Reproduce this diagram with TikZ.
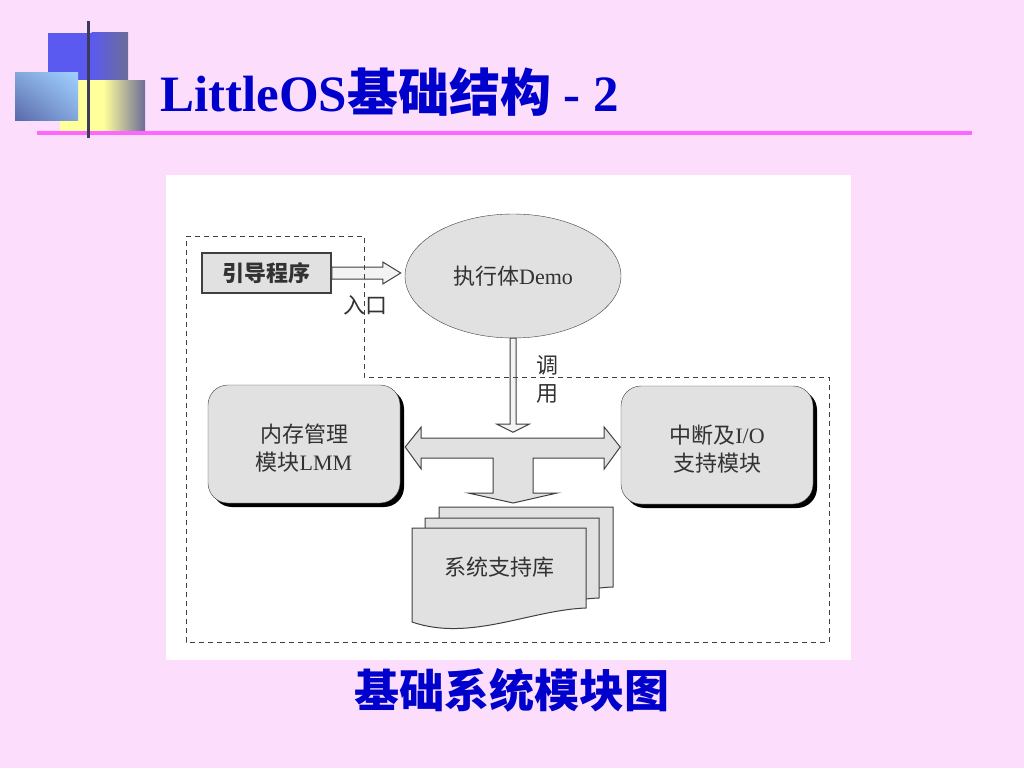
\documentclass[tikz,border=0pt]{standalone}
\usepackage{fontspec}
\setmainfont{Liberation Serif}
\newfontfamily\cjk{Noto Sans CJK SC}
\usetikzlibrary{shapes.geometric,shadows,shadings}
\definecolor{pagepink}{RGB}{252,221,252}
\definecolor{titleblue}{RGB}{0,0,204}
\definecolor{rulepink}{RGB}{255,102,255}
\definecolor{boxfill}{RGB}{225,225,225}
\definecolor{boxline}{RGB}{64,64,64}
\definecolor{boxtext}{RGB}{50,50,50}
\definecolor{logoblue}{RGB}{90,90,240}
\definecolor{logoslate}{RGB}{108,108,152}
\definecolor{logoyellow}{RGB}{255,255,156}
\definecolor{logosky}{RGB}{160,208,255}
\definecolor{logonavy}{RGB}{88,104,168}
\definecolor{logobar}{RGB}{60,60,90}
\tikzset{
  box/.style={draw=boxline,fill=boxfill,text=boxtext,inner sep=0pt},
  module/.style={box,rounded corners=20pt,minimum width=192pt,minimum height=118pt,
    align=center,font=\fontsize{22}{28}\selectfont,text height=53pt,text depth=0pt,
    drop shadow={shadow xshift=4pt,shadow yshift=-4pt,fill=black,opacity=1}},
  hollow/.style={draw=boxline,fill=boxfill,line width=1pt},
  txt/.style={text=boxtext,inner sep=0pt,font=\fontsize{22}{28}\selectfont\cjk}
}
\begin{document}
\begin{tikzpicture}[x=1pt,y=-1pt]
\fill[pagepink] (0,0) rectangle (1024,768);
\useasboundingbox (0,0) rectangle (1024,768);

\fill[logoblue] (48,33) rectangle (92,80);
\shade[left color=logoblue,right color=logoslate] (91.5,33) rectangle (128,80);
\fill[logoyellow] (60,80) rectangle (104,132);
\shade[left color=logoyellow,right color=logoslate] (103.5,80) rectangle (145,132);
\shade[upper right=logosky,lower left=logonavy,upper left=logosky!60!logonavy,lower right=logosky!60!logonavy] (15,72) rectangle (78,120);
\draw[rulepink,line width=3.5pt] (37,133) -- (972,133);
\draw[logobar,line width=3pt] (88,21) -- (88,138);
\node[anchor=base west,inner sep=0pt,text=titleblue,font=\fontsize{51}{60}\selectfont\bfseries] (title) at (160,111) {LittleOS{\cjk 基础结构} - 2};

\fill[white] (166,175) rectangle (851,660);

\node[box,line width=1.5pt,minimum width=129pt,minimum height=40pt,font=\fontsize{22}{26}\selectfont\cjk\bfseries] (boot) at (266.5,273) {引导程序};
\node[box,ellipse,minimum width=216pt,minimum height=124pt,font=\fontsize{22}{26}\selectfont] (demo) at (513,276) {{\cjk 执行体}Demo};
\node[module] (lmm) at (304,444) {{\cjk 内存管理}\\{\cjk 模块}LMM};
\node[module] (io) at (717,445) {{\cjk 中断及}I/O\\{\cjk 支持模块}};

\foreach \dx/\dy in {27/-21,13/-10,0/0}
  \draw[hollow,shift={(\dx,\dy)}] (412,528) -- (586,528) -- (586,608) .. controls (530,610) and (470,642) .. (412,622) -- cycle;
\node[txt] (lib) at (499,567) {系统支持库};

\draw[hollow,fill=boxfill!40] (boot.east) ++(0,-6) -- ++(51,0) -- ++(0,-5) -- ++(18,11) -- ++(-18,11) -- ++(0,-5) -- ++(-51,0) -- cycle;
\draw[hollow,fill=boxfill!40] (demo.south) ++(-3,0) -- ++(0,86) -- ++(-13,0) -- ++(16,8) -- ++(16,-8) -- ++(-13,0) -- ++(0,-86) -- cycle;
\draw[hollow] (lmm.east) ++(5,3) -- ++(16,-20) -- ++(0,11) -- ++(183,0) -- ++(0,-11) -- ++(16,20) -- ++(-16,22) -- ++(0,-11) -- ++(-71,0) -- ++(0,35) -- ++(24,0) -- ++(-44,10) -- ++(-45,-10) -- ++(25,0) -- ++(0,-35) -- ++(-72,0) -- ++(0,11) -- cycle;

\node[txt] (entry) at (365,305) {入口};
\node[txt,align=center] (call) at (547,379) {调\\用};

\draw[boxline,line width=0.8pt,dash pattern=on 5pt off 4pt] (186,236) -- (364,236) -- (364,377) -- (829,377) -- (829,642) -- (186,642) -- cycle;

\node[text=titleblue,inner sep=0pt,font=\fontsize{45}{54}\selectfont\cjk\bfseries] (caption) at (512,690) {基础系统模块图};
\end{tikzpicture}
\end{document}
